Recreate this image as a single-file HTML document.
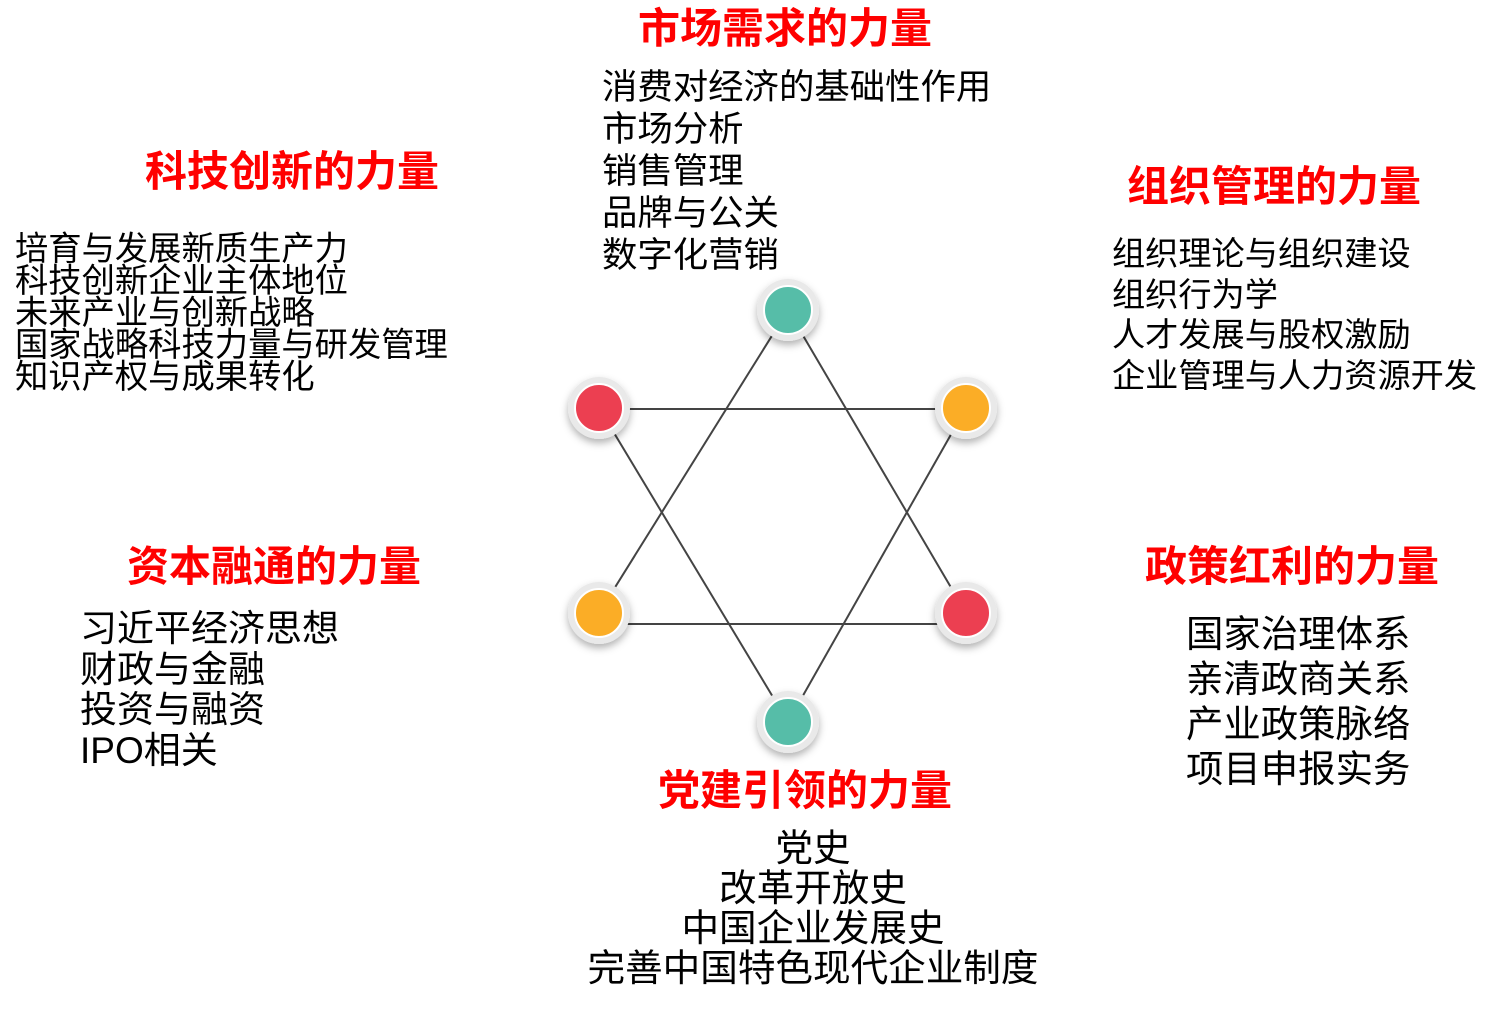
<!DOCTYPE html>
<html><head><meta charset="utf-8"><style>
body{margin:0;width:1501px;height:1011px;background:#fff;position:relative;overflow:hidden;font-family:"Liberation Sans","Noto Sans CJK SC",sans-serif;}
.t{position:absolute;color:#f00;font-weight:bold;font-size:42px;line-height:44px;white-space:nowrap;}
.b{position:absolute;color:#000;font-size:34px;white-space:nowrap;}
</style></head><body>
<svg width="1501" height="1011" style="position:absolute;left:0;top:0">
<defs><filter id="s" x="-50%" y="-50%" width="200%" height="200%"><feDropShadow dx="0" dy="4" stdDeviation="4" flood-color="#000" flood-opacity="0.3"/></filter></defs>
<g stroke="#444" stroke-width="2">
<line x1="788" y1="310" x2="599" y2="613"/><line x1="788" y1="310" x2="966" y2="613"/>
<line x1="599" y1="409" x2="966" y2="409"/><line x1="599" y1="624" x2="966" y2="624"/>
<line x1="599" y1="408" x2="788" y2="722"/><line x1="966" y1="408" x2="788" y2="722"/>
</g>
<g>
<circle cx="788" cy="310" r="31" fill="#e9e9e9" filter="url(#s)"/><circle cx="788" cy="310" r="24" fill="#56bda8" stroke="#fff" stroke-width="2"/>
<circle cx="966" cy="408" r="31" fill="#e9e9e9" filter="url(#s)"/><circle cx="966" cy="408" r="24" fill="#fbad26" stroke="#fff" stroke-width="2"/>
<circle cx="599" cy="408" r="31" fill="#e9e9e9" filter="url(#s)"/><circle cx="599" cy="408" r="24" fill="#ec3f51" stroke="#fff" stroke-width="2"/>
<circle cx="599" cy="613" r="31" fill="#e9e9e9" filter="url(#s)"/><circle cx="599" cy="613" r="24" fill="#fbad26" stroke="#fff" stroke-width="2"/>
<circle cx="966" cy="613" r="31" fill="#e9e9e9" filter="url(#s)"/><circle cx="966" cy="613" r="24" fill="#ec3f51" stroke="#fff" stroke-width="2"/>
<circle cx="788" cy="722" r="31" fill="#e9e9e9" filter="url(#s)"/><circle cx="788" cy="722" r="24" fill="#56bda8" stroke="#fff" stroke-width="2"/>
</g>
</svg>
<div class="t" style="left:638px;top:7px">市场需求的力量</div>
<div class="b" style="left:602px;top:66px;font-size:35.4px;line-height:42px">消费对经济的基础性作用<br>市场分析<br>销售管理<br>品牌与公关<br>数字化营销</div>
<div class="t" style="left:145px;top:150px">科技创新的力量</div>
<div class="b" style="left:15px;top:234px;font-size:33.3px;line-height:32px">培育与发展新质生产力<br>科技创新企业主体地位<br>未来产业与创新战略<br>国家战略科技力量与研发管理<br>知识产权与成果转化</div>
<div class="t" style="left:1127px;top:165px">组织管理的力量</div>
<div class="b" style="left:1112px;top:235px;font-size:33.2px;line-height:40.5px">组织理论与组织建设<br>组织行为学<br>人才发展与股权激励<br>企业管理与人力资源开发</div>
<div class="t" style="left:127px;top:545px">资本融通的力量</div>
<div class="b" style="left:80px;top:609px;font-size:37px;line-height:40.5px">习近平经济思想<br>财政与金融<br>投资与融资<br>IPO相关</div>
<div class="t" style="left:1145px;top:545px">政策红利的力量</div>
<div class="b" style="left:1186px;top:612px;font-size:37.4px;line-height:45px">国家治理体系<br>亲清政商关系<br>产业政策脉络<br>项目申报实务</div>
<div class="t" style="left:658px;top:769px">党建引领的力量</div>
<div class="b" style="left:563px;width:500px;text-align:center;top:828px;font-size:37.6px;line-height:40px">党史<br>改革开放史<br>中国企业发展史<br>完善中国特色现代企业制度</div>
</body></html>
